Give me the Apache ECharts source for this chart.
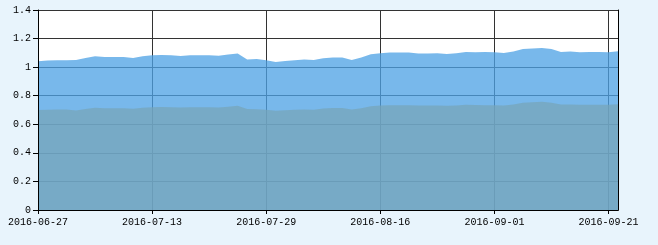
<!DOCTYPE html>
<html>
<head>
<meta charset="utf-8">
<script src="https://cdn.jsdelivr.net/npm/echarts@6/dist/echarts.min.js"></script>
<style>
html,body{margin:0;padding:0;background:#e8f4fc;}
#c{width:658px;height:245px;}
</style>
</head>
<body>
<div id="c"></div>
<script>
const dates = [
 '2016-06-27','2016-06-28','2016-06-29','2016-06-30','2016-07-01',
 '2016-07-04','2016-07-05','2016-07-06','2016-07-07','2016-07-08',
 '2016-07-11','2016-07-12','2016-07-13','2016-07-14','2016-07-15',
 '2016-07-18','2016-07-19','2016-07-20','2016-07-21','2016-07-22',
 '2016-07-25','2016-07-26','2016-07-27','2016-07-28','2016-07-29',
 '2016-08-01','2016-08-02','2016-08-03','2016-08-04','2016-08-05',
 '2016-08-08','2016-08-09','2016-08-10','2016-08-11','2016-08-12',
 '2016-08-15','2016-08-16','2016-08-17','2016-08-18','2016-08-19',
 '2016-08-22','2016-08-23','2016-08-24','2016-08-25','2016-08-26',
 '2016-08-29','2016-08-30','2016-08-31','2016-09-01','2016-09-02',
 '2016-09-05','2016-09-06','2016-09-07','2016-09-08','2016-09-09',
 '2016-09-12','2016-09-13','2016-09-14','2016-09-19','2016-09-20',
 '2016-09-21','2016-09-22'
];
const upperValues = [
 1.041,1.046,1.048,1.048,1.050,1.064,1.076,1.071,1.071,1.071,
 1.064,1.076,1.083,1.085,1.083,1.078,1.083,1.083,1.083,1.080,
 1.088,1.095,1.053,1.057,1.048,1.036,1.043,1.048,1.053,1.050,
 1.062,1.067,1.067,1.050,1.067,1.090,1.097,1.102,1.102,1.102,
 1.095,1.095,1.097,1.092,1.097,1.106,1.104,1.106,1.104,1.099,
 1.109,1.127,1.130,1.134,1.127,1.106,1.109,1.104,1.106,1.106,
 1.104,1.111
];
const lowerValues = [
 0.700,0.702,0.703,0.703,0.697,0.707,0.715,0.713,0.713,0.713,
 0.709,0.715,0.720,0.721,0.720,0.717,0.720,0.720,0.720,0.718,
 0.723,0.730,0.707,0.705,0.702,0.695,0.699,0.701,0.703,0.702,
 0.710,0.714,0.714,0.703,0.712,0.726,0.731,0.734,0.734,0.734,
 0.731,0.731,0.732,0.730,0.732,0.737,0.735,0.734,0.733,0.732,
 0.738,0.750,0.755,0.757,0.750,0.738,0.739,0.736,0.737,0.737,
 0.736,0.740
];
const yTicks = ['0','0.2','0.4','0.6','0.8','1','1.2','1.4'];

const font = {fontFamily:'Liberation Mono', fontSize:10, color:'#000'};
const chart = echarts.init(document.getElementById('c'), null, {renderer:'canvas'});
chart.setOption({
  backgroundColor:'#e8f4fc',
  animation:false,
  grid:{left:38, top:10, width:580, height:200, show:true, backgroundColor:'#ffffff', borderWidth:0},
  xAxis:[
    {type:'category', data:dates, boundaryGap:false, position:'bottom',
     axisLine:{show:false}, axisTick:{show:false}, axisLabel:{show:false},
     splitLine:{show:true, interval:11, lineStyle:{color:'#333333', width:1}}},
    {type:'category', data:dates, boundaryGap:false, position:'bottom', z:10,
     axisLine:{show:true, lineStyle:{color:'#000', width:1}},
     axisTick:{show:true, interval:11, length:4, lineStyle:{color:'#000'}},
     axisLabel:Object.assign({show:true, interval:11, margin:7}, font),
     splitLine:{show:false}},
    {type:'category', data:dates, boundaryGap:false, position:'top', z:10,
     axisLine:{show:true, lineStyle:{color:'#000', width:1}},
     axisTick:{show:false}, axisLabel:{show:false}, splitLine:{show:false}}
  ],
  yAxis:[
    {type:'value', min:0, max:1.4, interval:0.2, position:'left',
     axisLine:{show:false}, axisTick:{show:false}, axisLabel:{show:false},
     splitLine:{show:true, lineStyle:{color:'#333333', width:1}}},
    {type:'value', min:0, max:1.4, interval:0.2, position:'left', z:10,
     axisLine:{show:true, lineStyle:{color:'#000', width:1}},
     axisTick:{show:true, length:5, lineStyle:{color:'#000'}},
     axisLabel:Object.assign({show:true, margin:7, formatter:(v,i)=>yTicks[i]}, font),
     splitLine:{show:false}},
    {type:'value', min:0, max:1.4, interval:0.2, position:'right', z:10,
     axisLine:{show:true, lineStyle:{color:'#000', width:1}},
     axisTick:{show:false}, axisLabel:{show:false}, splitLine:{show:false}}
  ],
  series:[
    {name:'累计净值', type:'line', xAxisIndex:0, yAxisIndex:0, data:upperValues,
     showSymbol:false, smooth:false, lineStyle:{width:0},
     areaStyle:{color:'#4da2e5', opacity:0.76}},
    {name:'单位净值', type:'line', xAxisIndex:0, yAxisIndex:0, data:lowerValues,
     showSymbol:false, smooth:false, lineStyle:{width:0},
     areaStyle:{color:'#77a5b8', opacity:0.73}}
  ]
});
</script>
</body>
</html>
